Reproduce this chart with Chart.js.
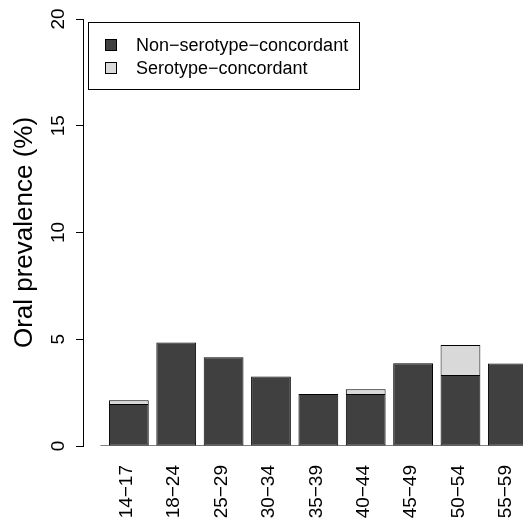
<!DOCTYPE html>
<html>
<head>
<meta charset="utf-8">
<script src="https://cdn.jsdelivr.net/npm/chart.js@4"></script>
<style>
body { margin: 0; background: #fff; overflow: hidden; }
</style>
</head>
<body>
<canvas id="myChart" width="523" height="522"></canvas>
<script>
const ctx = document.getElementById('myChart')

const ageGroups = ['14−17', '18−24', '25−29', '30−34', '35−39', '40−44', '45−49', '50−54', '55−59']
const nonConcordant = [1.97, 4.85, 4.16, 3.25, 2.43, 2.44, 3.88, 3.32, 3.87]
const concordant = [0.17, 0, 0, 0, 0, 0.22, 0, 1.41, 0]
const seriesNames = ['Non−serotype−concordant', 'Serotype−concordant']
const yTicks = [0, 5, 10, 15, 20]

const font = '"Liberation Sans", Arial, sans-serif'

// legend box inside the plot + grey baseline, like the R barplot
const boxLegend = {
    id: 'boxLegend',
    beforeDatasetsDraw(chart) {
        const c = chart.ctx
        const x = chart.scales.x, y = chart.scales.y
        const y0 = Math.round(y.getPixelForValue(0)) - 0.5
        c.save()
        c.strokeStyle = '#808080'
        c.lineWidth = 1
        c.beginPath()
        c.moveTo(x.getPixelForValue(-0.6), y0)
        c.lineTo(chart.width, y0)
        c.stroke()
        c.restore()
    },
    afterDraw(chart) {
        const c = chart.ctx
        const a = chart.chartArea
        const left = a.left + 5, top = a.top + 3
        c.save()
        c.fillStyle = '#fff'
        c.fillRect(left, top, 271, 67)
        c.strokeStyle = '#000'
        c.lineWidth = 1
        c.strokeRect(left + 0.5, top + 0.5, 271, 67)
        c.font = '18px ' + font
        c.textBaseline = 'middle'
        chart.data.datasets.forEach((ds, i) => {
            const cy = top + 23 + i * 23
            c.fillStyle = ds.backgroundColor
            c.fillRect(left + 17, cy - 6, 12, 12)
            c.strokeStyle = '#000'
            c.strokeRect(left + 17.5, cy - 5.5, 11, 11)
            c.fillStyle = '#000'
            c.fillText(ds.label, left + 48, cy + 1)
        })
        c.restore()
    }
}

const myChart = new Chart(ctx, {
    type: 'bar',
    data: {
        datasets: [{
            label: seriesNames[0],
            data: nonConcordant.map((v, i) => ({ x: i, y: v })),
            backgroundColor: '#404040',
            borderColor: '#000',
            borderWidth: 1,
            borderSkipped: false,
            barPercentage: 0.84,
            categoryPercentage: 1
        }, {
            label: seriesNames[1],
            data: concordant.map((v, i) => ({ x: i, y: v })),
            backgroundColor: '#d9d9d9',
            borderColor: '#000',
            borderWidth: 1,
            borderSkipped: 'bottom',
            barPercentage: 0.84,
            categoryPercentage: 1
        }]
    },
    options: {
        responsive: false,
        animation: false,
        layout: { padding: { top: 19, right: 0, bottom: 0, left: 0 } },
        plugins: {
            legend: { display: false },
            tooltip: { enabled: false }
        },
        scales: {
            x: {
                type: 'linear',
                stacked: true,
                offset: false,
                min: -0.968,
                max: 8.32,
                grid: { display: false },
                border: { display: false },
                afterBuildTicks: s => { s.ticks = ageGroups.map((g, i) => ({ value: i })) },
                afterFit: s => { s.height = 76; s.paddingLeft = 0; s.paddingRight = 0 },
                ticks: {
                    autoSkip: false,
                    minRotation: 90,
                    maxRotation: 90,
                    padding: 11,
                    labelOffset: -2,
                    color: '#000',
                    font: { family: font, size: 19 },
                    callback: v => ageGroups[v]
                }
            },
            y: {
                stacked: true,
                min: 0,
                max: 20,
                afterBuildTicks: s => { s.ticks = yTicks.map(v => ({ value: v })) },
                afterFit: s => { s.width = 83; s.paddingTop = 0; s.paddingBottom = 0 },
                grid: {
                    drawOnChartArea: false,
                    drawTicks: true,
                    tickLength: 7,
                    tickColor: '#000'
                },
                border: { display: true, color: '#000', width: 1 },
                ticks: {
                    minRotation: 90,
                    maxRotation: 90,
                    crossAlign: 'center',
                    padding: 7,
                    color: '#000',
                    font: { family: font, size: 19 }
                },
                title: {
                    display: true,
                    text: 'Oral prevalence (%)',
                    color: '#000',
                    padding: { top: 9, bottom: 0 },
                    font: { family: font, size: 26 }
                }
            }
        }
    },
    plugins: [boxLegend]
});
</script>
</body>
</html>
